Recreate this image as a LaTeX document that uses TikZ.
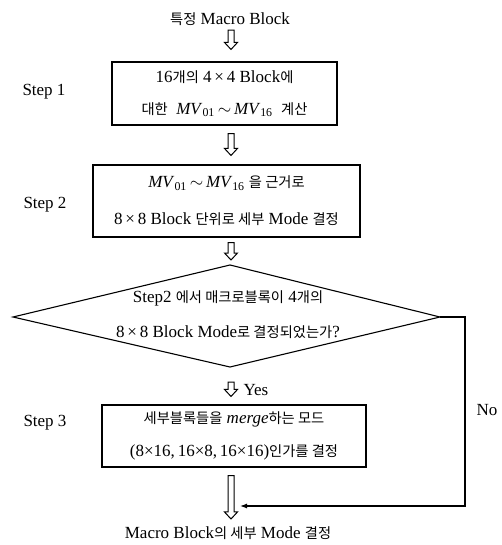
\documentclass[tikz,border=0pt]{standalone}
\usepackage{fontspec}
\setmainfont{Liberation Serif}
\newfontfamily\kr[Scale=0.84]{Noto Sans CJK KR}
\usetikzlibrary{calc,arrows.meta}
\newcommand\mvs[1]{\textit{MV}\textsubscript{#1}}
\newcommand\harrow[2]{\draw[hollow] let \p1=(#1), \p2=(#2) in
  (\x1-3pt,\y1) -- (\x1+3pt,\y1) -- (\x1+3pt,\y2+7pt) -- (\x1+6.5pt,\y2+7pt)
  -- (\x1,\y2) -- (\x1-6.5pt,\y2+7pt) -- (\x1-3pt,\y2+7pt) -- cycle;}
\begin{document}
\begin{tikzpicture}[x=1pt,y=-1pt,
  line width=1.1pt,
  hollow/.style={line width=1pt, line join=miter},
  txt/.style={inner sep=0pt, font=\fontsize{17}{20}\selectfont},
  box/.style={draw, align=center, inner sep=0pt},
  conn/.style={line width=1.2pt, -{Latex[length=7pt,width=5pt]}}]
\useasboundingbox (0,0) rectangle (501,545);
\coordinate (ax) at (231,0);

\node[txt] (t) at (230,19) {{\kr 특정} Macro Block};

\node[box, minimum width=225pt, minimum height=63pt, font=\fontsize{17}{32}\selectfont] (b1) at (224.5,93.5)
  {16{\kr 개의} 4\,×\,4 Block{\kr 에}\\{\kr 대한}\ \ \mvs{01}$\,\sim\,$\mvs{16}\ \ {\kr 계산}};
\node[txt] (s1) at (44,92) {Step 1};

\node[box, minimum width=267pt, minimum height=72pt, font=\fontsize{17}{37}\selectfont] (b2) at (226.5,201)
  {\mvs{01}$\,\sim\,$\mvs{16}\ {\kr 을 근거로}\\8\,×\,8 Block {\kr 단위로 세부} Mode {\kr 결정}};
\node[txt] (s2) at (45,205) {Step 2};

\coordinate (dT) at (230,265);
\coordinate (dR) at (440,317);
\coordinate (dB) at (230,367);
\coordinate (dL) at (13,317);
\draw (dL) -- (dT) -- (dR) -- (dB) -- cycle;
\node[txt, align=center, font=\fontsize{17}{35}\selectfont] (d) at (228,315)
  {Step2 {\kr 에서 매크로블록이} 4{\kr 개의}\\8\,×\,8 Block Mode{\kr 로 결정되었는가}?};

\node[box, minimum width=264pt, minimum height=62pt, font=\fontsize{17}{33}\selectfont] (b3) at (234,436)
  {{\kr 세부블록들을} \textit{merge}{\kr 하는 모드}\\(8×16,\,16×8,\,16×16){\kr 인가를 결정}};
\node[txt] (s3) at (45,423) {Step 3};

\node[txt] (e) at (228,533) {Macro Block{\kr 의 세부} Mode {\kr 결정}};

\node[txt, anchor=west] (yes) at (243,390) {Yes};
\node[txt] (no) at (487,410) {No};

\harrow{$(t.south -| ax)+(0,4)$}{$(b1.north -| ax)+(0,-12)$}
\harrow{$(b1.south -| ax)+(0,8)$}{$(b2.north -| ax)+(0,-9)$}
\harrow{$(b2.south -| ax)+(0,5)$}{$(dT -| ax)+(0,-5)$}
\harrow{$(dB -| ax)+(0,15)$}{$(b3.north -| ax)+(0,-8)$}
\harrow{$(b3.south -| ax)+(0,8)$}{$(e.north -| ax)+(0,-7)$}

\coordinate (nc) at (465,506);
\coordinate (ntip) at (240,506);
\draw[conn] (dR) -| (nc) -- (ntip);
\end{tikzpicture}
\end{document}
